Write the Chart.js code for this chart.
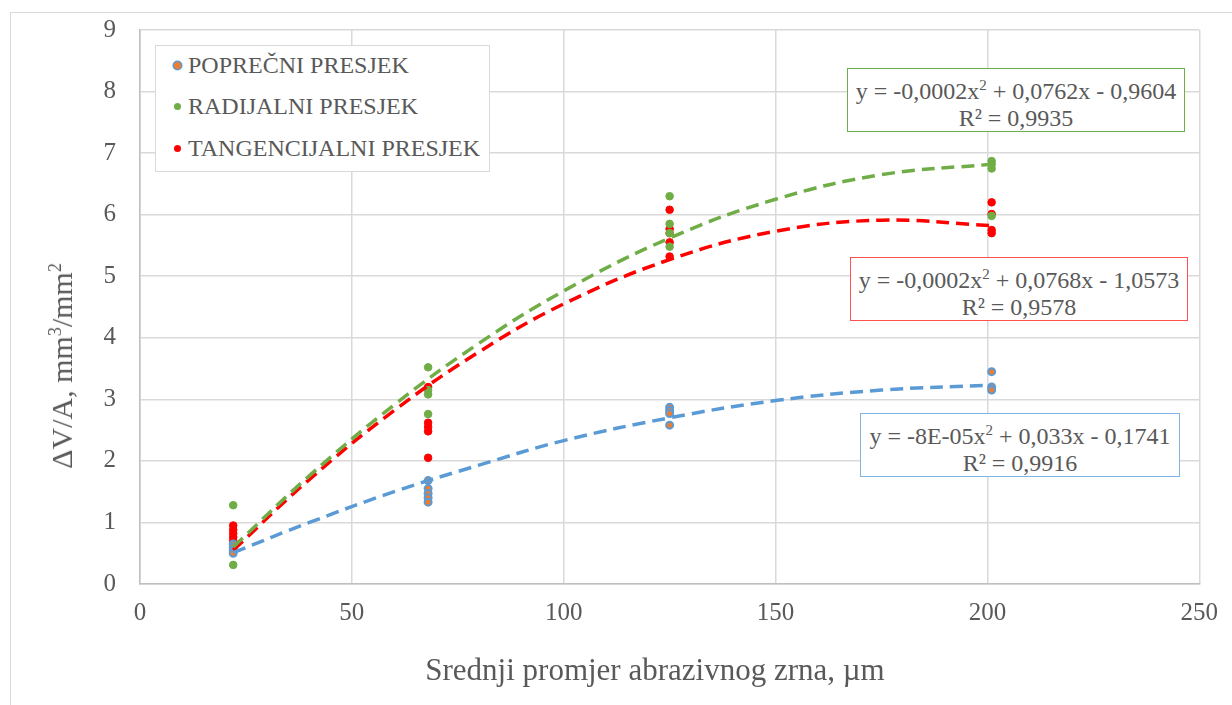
<!DOCTYPE html>
<html>
<head>
<meta charset="utf-8">
<script src="https://cdn.jsdelivr.net/npm/chart.js@4/dist/chart.umd.min.js"></script>
<style>
  body { margin: 0; background: #fff; font-family: "Liberation Serif", "Times New Roman", "DejaVu Serif", serif; color: #595959; }
  #wrap { position: relative; width: 1232px; height: 705px; }
  #frame { position: absolute; left: 10px; top: 12px; width: 1240px; height: 720px; border: 1px solid #d9d9d9; }
  canvas { position: absolute; left: 0; top: 0; }
  .legend { position: absolute; left: 155px; top: 45px; width: 335px; height: 127px; background: #fff;
            border: 1.5px solid #d9d9d9; box-sizing: border-box; font-size: 24px; }
  .legend div { position: absolute; left: 32px; white-space: nowrap; }
  .legend span { position: absolute; left: -14px; top: 10px; width: 7px; height: 7px; border-radius: 50%; }
  .eq { position: absolute; background: #fff; box-sizing: border-box; text-align: center;
        font-size: 24px; line-height: 27px; padding-top: 3px; white-space: nowrap; }
  .title { position: absolute; white-space: nowrap; font-size: 30px; }
</style>
</head>
<body>
<div id="wrap">
  <div id="frame"></div>
  <canvas id="chart" width="1232" height="705"></canvas>
  <div class="legend">
    <div style="top:6px"><span style="background:#ED7D31;box-shadow:0 0 0 1.5px #5B9BD5"></span>POPREČNI PRESJEK</div>
    <div style="top:47px"><span style="background:#70AD47"></span>RADIJALNI PRESJEK</div>
    <div style="top:89px"><span style="background:#FF0000"></span>TANGENCIJALNI PRESJEK</div>
  </div>
  <div class="eq" style="left:847px;top:68px;width:338px;height:64px;border:1.5px solid #70AD47">
    y = -0,0002x<sup style="font-size:15px">2</sup> + 0,0762x - 0,9604<br>R² = 0,9935</div>
  <div class="eq" style="left:850px;top:257px;width:338px;height:64px;border:1.5px solid #FF5050">
    y = -0,0002x<sup style="font-size:15px">2</sup> + 0,0768x - 1,0573<br>R² = 0,9578</div>
  <div class="eq" style="left:860px;top:413px;width:320px;height:64px;border:1.5px solid #7EB3E3">
    y = -8E-05x<sup style="font-size:15px">2</sup> + 0,033x - 0,1741<br>R² = 0,9916</div>
  <div class="title" style="left:62px;top:366px;transform:translate(-50%,-50%) rotate(-90deg)">ΔV/A, mm<sup style="font-size:18px">3</sup>/mm<sup style="font-size:18px">2</sup></div>
  <div class="title" style="left:655px;top:670px;transform:translate(-50%,-50%);font-size:31px">Srednji promjer abrazivnog zrna, µm</div>
</div>
<script>
// measured points (x = grain size, y = dV/A)
const poprecniX = [22, 22, 22, 22, 68, 68, 68, 68, 68, 125, 125, 125, 125, 201, 201, 201];
const poprecniY = [0.65, 0.60, 0.55, 0.50, 1.68, 1.55, 1.47, 1.40, 1.33, 2.87, 2.82, 2.77, 2.58, 3.45, 3.20, 3.15];

const radijalniX = [22, 22, 22, 68, 68, 68, 68, 125, 125, 125, 125, 201, 201, 201, 201];
const radijalniY = [1.28, 0.62, 0.31, 3.52, 3.15, 3.08, 2.76, 6.30, 5.85, 5.70, 5.48, 6.87, 6.82, 6.75, 5.98];

const tangX = [22, 22, 22, 22, 22, 68, 68, 68, 68, 68, 125, 125, 125, 125, 125, 201, 201, 201, 201];
const tangY = [0.95, 0.88, 0.82, 0.76, 0.70, 3.20, 2.62, 2.55, 2.48, 2.05, 6.08, 5.77, 5.70, 5.55, 5.32, 6.20, 6.01, 5.75, 5.70];

// trendlines
const trendX = [22, 40, 60, 80, 100, 125, 150, 175, 201];
const trendPoprecni = [0.51, 1.00, 1.50, 1.93, 2.33, 2.70, 2.98, 3.15, 3.23];
const trendRadijalni = [0.60, 1.76, 2.91, 3.91, 4.76, 5.62, 6.25, 6.65, 6.82];
const trendTang = [0.55, 1.70, 2.82, 3.77, 4.55, 5.27, 5.73, 5.91, 5.82];

const xTicks = [0, 50, 100, 150, 200, 250];
const yTicks = [0, 1, 2, 3, 4, 5, 6, 7, 8, 9];

const pts = (xs, ys) => xs.map((x, i) => ({ x: x, y: ys[i] }));

const BLUE = "#5B9BD5", GREEN = "#70AD47", RED = "#FF0000";
const SERIF = '"Liberation Serif", "Times New Roman", "DejaVu Serif", serif';
const trend = (label, ys, color) => ({
  type: "line", label: label, data: pts(trendX, ys),
  borderColor: color, borderWidth: 3.5, borderDash: [13, 7],
  pointRadius: 0, tension: 0.4, fill: false, order: 0,
});
const font = { family: SERIF, size: 25 };

new Chart(document.getElementById("chart"), {
  type: "scatter",
  data: {
    datasets: [
      { label: "POPREČNI PRESJEK", data: pts(poprecniX, poprecniY), backgroundColor: "#ED7D31",
        borderColor: BLUE, borderWidth: 2, pointRadius: 3.5, order: 1 },
      { label: "RADIJALNI PRESJEK", data: pts(radijalniX, radijalniY), backgroundColor: GREEN,
        borderColor: GREEN, pointRadius: 3.8, order: 1 },
      { label: "TANGENCIJALNI PRESJEK", data: pts(tangX, tangY), backgroundColor: RED,
        borderColor: RED, pointRadius: 3.8, order: 1 },
      trend("poly poprečni", trendPoprecni, BLUE),
      trend("poly radijalni", trendRadijalni, GREEN),
      trend("poly tangencijalni", trendTang, RED),
    ],
  },
  options: {
    responsive: false,
    animation: false,
    layout: { padding: { left: 48, right: 30, top: 30, bottom: 18 } },
    plugins: { legend: { display: false }, tooltip: { enabled: false } },
    scales: {
      x: {
        type: "linear", min: 0, max: 250,
        afterBuildTicks: (s) => { s.ticks = xTicks.map((v) => ({ value: v })); },
        afterFit: (s) => { s.height = 103; },
        grid: { color: "#d9d9d9", lineWidth: 1.5, drawTicks: false },
        border: { color: "#bfbfbf", width: 1.5 },
        ticks: { color: "#595959", font: font, padding: 14 },
      },
      y: {
        min: 0, max: 9,
        afterBuildTicks: (s) => { s.ticks = yTicks.map((v) => ({ value: v })); },
        afterFit: (s) => { s.width = 92; s.paddingTop = 0; s.paddingBottom = 0; },
        grid: { color: "#d9d9d9", lineWidth: 1.5, drawTicks: false },
        border: { color: "#bfbfbf", width: 1.5 },
        ticks: { color: "#595959", font: font, padding: 24 },
      },
    },
  },
});
</script>
</body>
</html>
